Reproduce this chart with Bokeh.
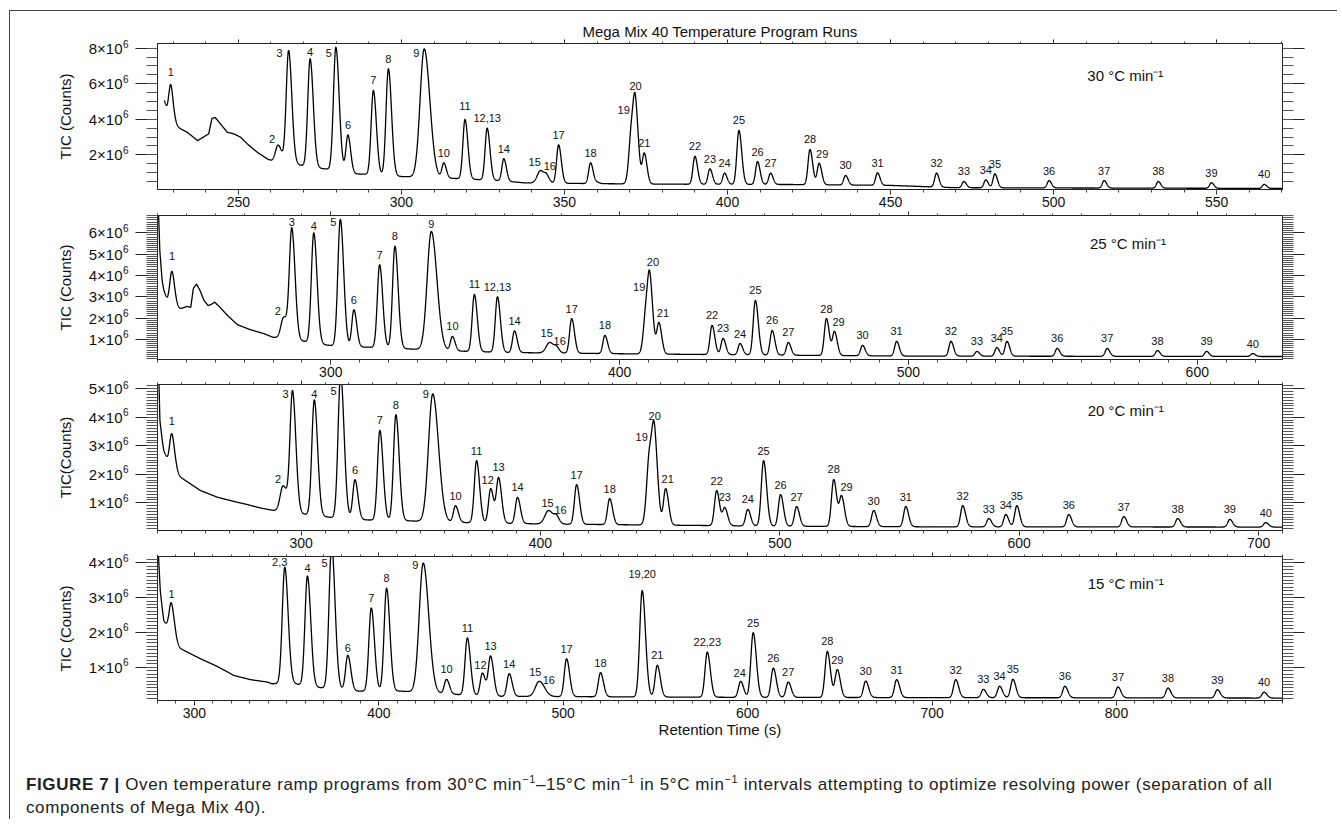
import numpy as np
from bokeh.plotting import figure
from bokeh.models import (ColumnDataSource, Range1d, FixedTicker, CustomJSTickFormatter,
                          LinearAxis, Label, Div)
from bokeh.layouts import column
from bokeh.core.properties import value
from bokeh.embed import file_html
from bokeh.resources import INLINE

FONT = "Liberation Sans"

# ------------------------------------------------------------------ data
# values in units of 1e6 counts, retention times in s

# 30 C/min
p30_labels = ["1", "2", "3", "4", "5", "6", "7", "8", "9", "10", "11", "12,13", "14", "15", "16",
              "17", "18", "", "19", "20", "21", "22", "23", "24", "25", "26", "27", "28", "29", "30",
              "31", "32", "33", "34", "35", "36", "37", "38", "39", "40"]
p30_rt = [229.3, 262.2, 265.4, 272.0, 279.9, 283.6, 291.4, 296.0, 307.0, 313.0, 319.5, 326.3, 331.4,
          342.7, 344.6, 348.2, 358.0, 360.0, 370.6, 371.8, 374.5, 390.0, 394.6, 399.1, 403.5, 409.2,
          413.2, 425.3, 428.1, 436.2, 446.0, 464.1, 472.5, 479.2, 482.0, 498.6, 515.5, 532.1, 548.4,
          564.6]
p30_apex = [5.95, 2.55, 7.87, 7.40, 8.05, 3.12, 5.62, 6.84, 7.96, 1.55, 3.99, 3.50, 1.78, 1.12, 0.93,
            2.56, 1.55, 0.50, 4.10, 5.30, 2.11, 1.92, 1.21, 0.97, 3.37, 1.62, 0.97, 2.30, 1.53, 0.84,
            0.99, 0.97, 0.50, 0.59, 0.93, 0.55, 0.55, 0.50, 0.43, 0.34]
p30_base_t = [227.3, 228.1, 229.3, 230.1, 232.3, 234.3, 237.5, 240.9, 241.9, 242.9, 244.5, 246.6,
              248.6, 250.7, 252.7, 255.9, 258.8, 260.4, 263.0, 267.0, 270.5, 275.5, 282.0, 286.0,
              290.0, 300.0, 311.0, 318.0, 330.0, 338.0, 360.0, 380.0, 420.0, 450.0, 470.0, 570.2]
p30_base_v = [5.05, 4.55, 4.20, 3.74, 3.46, 3.27, 2.80, 3.18, 4.05, 4.10, 3.74, 3.27, 3.18, 2.99,
              2.62, 2.13, 1.78, 1.65, 1.58, 1.50, 1.36, 1.23, 1.12, 0.93, 0.90, 0.78, 0.70, 0.66,
              0.55, 0.42, 0.38, 0.35, 0.33, 0.28, 0.15, 0.11]

# 25 C/min
p25_labels = ["1", "2", "3", "4", "5", "6", "7", "8", "9", "10", "11", "12,13", "14", "15", "16",
              "17", "18", "19", "20", "21", "22", "23", "24", "25", "26", "27", "28", "29", "30",
              "31", "32", "33", "34", "35", "36", "37", "38", "39", "40"]
p25_rt = [245.0, 283.7, 286.5, 294.1, 303.3, 308.0, 316.9, 322.2, 334.8, 342.1, 349.7, 357.7, 363.6,
          375.8, 378.2, 383.4, 394.9, 409.2, 410.5, 413.6, 432.0, 435.8, 441.7, 447.0, 452.8, 458.4,
          471.6, 474.4, 484.1, 495.9, 514.7, 523.7, 530.6, 534.1, 551.5, 568.8, 586.2, 603.2, 619.2]
p25_apex = [4.19, 2.05, 6.24, 6.00, 6.63, 2.39, 4.50, 5.37, 6.06, 1.14, 3.11, 3.00, 1.40, 0.86, 0.70,
            1.98, 1.19, 3.00, 4.14, 1.80, 1.66, 1.05, 0.81, 2.83, 1.42, 0.86, 1.98, 1.38, 0.72, 0.91,
            0.91, 0.44, 0.62, 0.91, 0.58, 0.58, 0.48, 0.44, 0.34]
p25_base_t = [240.1, 240.8, 241.6, 242.2, 243.4, 245.9, 248.0, 250.3, 251.5, 252.4, 253.5, 254.7,
              256.1, 257.5, 258.6, 259.8, 261.3, 264.2, 267.7, 272.3, 276.9, 279.8, 282.5, 290.2,
              297.7, 305.9, 312.7, 319.7, 331.3, 340.6, 360.0, 400.0, 450.0, 500.0, 629.5]
p25_base_v = [8.00, 5.17, 3.77, 3.30, 2.86, 2.49, 2.44, 2.55, 2.50, 3.38, 3.60, 3.30, 2.83, 2.59,
              2.64, 2.75, 2.55, 2.13, 1.69, 1.45, 1.27, 1.11, 1.05, 0.92, 0.75, 0.64, 0.64, 0.60,
              0.53, 0.47, 0.39, 0.33, 0.27, 0.22, 0.20]

# 20 C/min
p20_labels = ["1", "2", "3", "4", "5", "6", "7", "8", "9", "10", "11", "12", "13", "14", "15", "16",
              "17", "18", "19", "20", "21", "22", "23", "24", "25", "26", "27", "28", "29", "30",
              "31", "32", "33", "34", "35", "36", "37", "38", "39", "40"]
p20_rt = [246.0, 292.5, 296.4, 305.5, 316.5, 322.5, 332.9, 339.6, 355.0, 364.5, 373.3, 379.2, 382.5,
          390.4, 403.4, 406.7, 415.1, 428.9, 445.6, 447.7, 452.3, 473.6, 477.0, 486.6, 493.2, 500.3,
          507.0, 522.5, 525.8, 539.2, 552.6, 576.4, 587.3, 594.4, 599.0, 620.7, 643.7, 666.2, 688.0,
          703.0]
p20_apex = [3.42, 1.60, 4.94, 4.61, 5.50, 1.81, 3.54, 4.09, 4.82, 0.90, 2.48, 1.50, 1.89, 1.19, 0.73,
            0.59, 1.64, 1.15, 3.00, 3.71, 1.50, 1.43, 0.84, 0.77, 2.48, 1.29, 0.87, 1.82, 1.26, 0.73,
            0.87, 0.90, 0.45, 0.59, 0.90, 0.59, 0.52, 0.45, 0.42, 0.31]
p20_base_t = [240.1, 241.0, 242.0, 242.6, 244.5, 247.1, 249.6, 258.0, 264.9, 271.9, 277.5, 283.0,
              288.6, 300.5, 312.3, 320.7, 327.6, 341.5, 361.0, 400.0, 450.0, 500.0, 560.0, 710.0]
p20_base_v = [7.00, 3.89, 3.19, 2.84, 2.42, 2.07, 1.90, 1.43, 1.20, 1.05, 0.94, 0.82, 0.73, 0.61,
              0.49, 0.44, 0.40, 0.38, 0.32, 0.26, 0.22, 0.18, 0.16, 0.15]

# 15 C/min
p15_labels = ["1", "2,3", "4", "5", "6", "7", "8", "9", "10", "11", "12", "13", "14", "15", "16",
              "17", "18", "19,20", "21", "22,23", "24", "25", "26", "27", "28", "29", "30", "31",
              "32", "33", "34", "35", "36", "37", "38", "39", "40"]
p15_rt = [287.6, 349.0, 361.3, 374.4, 383.2, 395.9, 404.2, 424.1, 436.7, 448.0, 456.2, 460.6, 470.7,
          487.0, 489.5, 501.8, 520.2, 542.8, 551.0, 578.1, 596.2, 603.0, 613.9, 622.0, 643.2, 648.6,
          664.0, 680.8, 712.8, 727.8, 736.6, 743.8, 772.0, 800.8, 827.9, 854.7, 880.0]
p15_apex = [2.84, 3.87, 3.62, 4.50, 1.34, 2.70, 3.27, 3.99, 0.65, 1.84, 0.83, 1.32, 0.81, 0.59, 0.43,
            1.24, 0.84, 3.20, 1.05, 1.43, 0.59, 1.99, 0.97, 0.57, 1.45, 0.93, 0.60, 0.64, 0.64, 0.36,
            0.45, 0.65, 0.45, 0.43, 0.40, 0.35, 0.28]
p15_base_t = [280.0, 280.55, 281.5, 282.5, 283.4, 285.8, 288.5, 292.5, 303.3, 312.4, 321.4, 330.4,
              339.5, 342.2, 352.1, 363.0, 375.6, 386.5, 411.8, 433.5, 460.0, 600.0, 890.0]
p15_base_v = [5.50, 4.18, 3.20, 2.72, 2.34, 2.10, 1.72, 1.53, 1.24, 1.02, 0.76, 0.64, 0.57, 0.52,
              0.55, 0.43, 0.38, 0.31, 0.31, 0.24, 0.16, 0.13, 0.11]

# axis ticks
p30_xticks = [250, 300, 350, 400, 450, 500, 550]
p25_xticks = [300, 400, 500, 600]
p20_xticks = [300, 400, 500, 600, 700]
p15_xticks = [300, 400, 500, 600, 700, 800]
p30_yticks = [2, 4, 6, 8]
p25_yticks = [1, 2, 3, 4, 5, 6]
p20_yticks = [1, 2, 3, 4, 5]
p15_yticks = [1, 2, 3, 4]
y_exponent = "6"

rates = ["30 °C min⁻¹", "25 °C min⁻¹", "20 °C min⁻¹", "15 °C min⁻¹"]

# ------------------------------------------------------------------ styling / layout
TAIL = 1.35
FRAME_W = 1125
LEFT_B = 147
RIGHT_B = 55
SUP_RAISE_PX = 5

panels = [
    dict(labels=p30_labels, rt=p30_rt, apex=p30_apex, bt=p30_base_t, bv=p30_base_v,
         xr=(225.2, 570.2), yr=(0.05, 8.26), xt=p30_xticks, xminor=list(range(230, 571, 10)),
         yt=p30_yticks, yminor=list(np.arange(0.5, 8.01, 0.5)), sigma=0.55,
         broad={"9": 1.7, "15": 1.8, "2": 1.4, "19": 1.2},
         fh=146, bt_=32, bb=22, ylabel="TIC (Counts)", rate_pos=(522.0, 6.46),
         offs={"2": (-6, -6), "3": (-9, 3), "5": (-7, 6), "9": (-8, 4), "15": (-6, -8),
               "16": (3, -8), "19": (-8, -7), "29": (3, -9), "4": (0, -7), "1": (0, -13),
               "11": (0, -13)}),
    dict(labels=p25_labels, rt=p25_rt, apex=p25_apex, bt=p25_base_t, bv=p25_base_v,
         xr=(240.0, 629.5), yr=(0.06, 6.81), xt=p25_xticks, xminor=list(range(240, 630, 10)),
         yt=p25_yticks, yminor=list(np.round(np.arange(0.1, 6.81, 0.1), 2)), sigma=0.66,
         broad={"9": 1.7, "15": 1.8, "2": 1.4, "19": 1.2},
         fh=144, bt_=4, bb=20, ylabel="TIC (Counts)", rate_pos=(576.0, 5.5),
         offs={"1": (0, -15), "2": (-6, -6), "3": (0, -6), "4": (0, -7), "5": (-7, 3),
               "9": (0, -8), "15": (-3, -9), "16": (3, -5), "19": (-7, -10), "20": (3, -10),
               "21": (4, -9), "29": (4, -9)}),
    dict(labels=p20_labels, rt=p20_rt, apex=p20_apex, bt=p20_base_t, bv=p20_base_v,
         xr=(240.0, 710.0), yr=(0.03, 5.15), xt=p20_xticks, xminor=list(range(240, 711, 10)),
         yt=p20_yticks, yminor=list(np.round(np.arange(0.1, 5.11, 0.1), 2)), sigma=0.85,
         broad={"9": 1.7, "15": 1.8, "2": 1.4, "19": 1.2},
         fh=146, bt_=5, bb=21, ylabel="TIC(Counts)", rate_pos=(644.5, 4.24),
         offs={"1": (0, -13), "2": (-5, -7), "3": (-7, 3), "4": (0, -6), "5": (-7, 6),
               "9": (-7, 0), "12": (-3, -9), "15": (-1, -8), "16": (4, -5), "19": (-8, -9),
               "21": (2, -10), "29": (5, -8)}),
    dict(labels=p15_labels, rt=p15_rt, apex=p15_apex, bt=p15_base_t, bv=p15_base_v,
         xr=(280.0, 890.0), yr=(0.04, 4.18), xt=p15_xticks, xminor=list(range(280, 891, 10)),
         yt=p15_yticks, yminor=list(np.round(np.arange(0.1, 4.11, 0.1), 2)), sigma=1.15,
         broad={"9": 1.6, "15": 1.8},
         fh=144, bt_=5, bb=42, ylabel="TIC (Counts)", rate_pos=(805.0, 3.4),
         offs={"1": (0, -9), "2,3": (-5, -5), "4": (0, -8), "5": (-7, 6), "6": (0, -7),
               "9": (-8, 2), "12": (-2, -8), "15": (-4, -9), "16": (5, -6), "24": (-1, -8),
               "19,20": (0, -17)}),
]


def shape(t, t0, sl, sr):
    d = t - t0
    s = np.where(d < 0, sl, sr)
    return np.exp(-0.5 * (d / s) ** 2)


def build_trace(pd):
    labels = pd["labels"]
    rt = np.asarray(pd["rt"], float)
    apex = np.asarray(pd["apex"], float)
    bt = np.asarray(pd["bt"], float)
    bv = np.asarray(pd["bv"], float)
    n = len(rt)
    excess = apex - np.interp(rt, bt, bv)
    mult = np.array([pd["broad"].get(l, 1.0) for l in labels])
    sl = pd["sigma"] * (1 + 0.05 * np.clip(excess, 0, None)) * mult
    sr = sl * TAIL
    G = np.array([[float(shape(rt[i], rt[j], sl[j], sr[j])) for j in range(n)] for i in range(n)])
    amp = np.clip(np.linalg.solve(G, excess), 0.0, None)
    t = np.linspace(bt[0], pd["xr"][1], 9000)
    v = np.interp(t, bt, bv)
    for j in range(n):
        v = v + amp[j] * shape(t, rt[j], sl[j], sr[j])
    apex_val = np.interp(rt, t, v)
    return t, v, apex_val


BLANK = "return '';"

figs = []
for k, pd in enumerate(panels):
    t, v, apex_val = build_trace(pd)
    y0, y1 = pd["yr"][0] * 1e6, pd["yr"][1] * 1e6
    p = figure(frame_width=FRAME_W, frame_height=pd["fh"],
               x_range=Range1d(*pd["xr"]), y_range=Range1d(y0, y1),
               output_backend="svg", toolbar_location=None,
               x_axis_location=None, y_axis_location=None,
               min_border_left=LEFT_B, min_border_right=RIGHT_B,
               min_border_top=pd["bt_"], min_border_bottom=pd["bb"])
    p.grid.visible = False
    p.outline_line_color = "#222222"
    p.outline_line_width = 1
    p.background_fill_color = "white"
    p.border_fill_color = "white"

    # x axes
    xt = FixedTicker(ticks=pd["xt"], minor_ticks=pd["xminor"])
    common_x = dict(ticker=xt, axis_line_color="#222222", major_tick_line_color="#222222",
                    minor_tick_line_color="#444444", major_tick_in=0, minor_tick_in=0)
    xb = LinearAxis(major_tick_out=5, minor_tick_out=3, major_label_standoff=2,
                    major_label_text_font=FONT, major_label_text_font_size="14px",
                    major_label_text_color="#111111", **common_x)
    if k == 3:
        xb.axis_label = "Retention Time (s)"
        xb.axis_label_text_font = FONT
        xb.axis_label_text_font_size = "15px"
        xb.axis_label_text_font_style = "normal"
        xb.axis_label_standoff = 0
        xb.axis_label_text_color = "#111111"
    p.add_layout(xb, "below")
    xa = LinearAxis(major_tick_out=4, minor_tick_out=2, major_label_standoff=0,
                    major_label_text_font_size="0px", major_label_text_alpha=0,
                    formatter=CustomJSTickFormatter(code=BLANK), **common_x)
    p.add_layout(xa, "above")

    # y axes: ticks / exponent / mantissa, stacked outward from the frame
    major = [y * 1e6 for y in pd["yt"]]
    yt = FixedTicker(ticks=major, minor_ticks=[y * 1e6 for y in pd["yminor"]])
    ya = LinearAxis(ticker=yt, axis_line_color="#222222", major_tick_line_color="#222222",
                    minor_tick_line_color="#555555", major_tick_in=0, minor_tick_in=0,
                    major_tick_out=22, minor_tick_out=11, major_label_standoff=0,
                    major_label_text_font_size="0px", major_label_text_alpha=0,
                    formatter=CustomJSTickFormatter(code=BLANK))
    p.add_layout(ya, "left")
    raise_data = (y1 - y0) / pd["fh"] * SUP_RAISE_PX
    sup_ticks = [min(m + raise_data, y1 - (y1 - y0) * 1e-4) for m in major]
    yexp = LinearAxis(ticker=FixedTicker(ticks=sup_ticks, minor_ticks=[]),
                      axis_line_color=None, major_tick_line_color=None,
                      minor_tick_line_color=None, major_tick_in=0, major_tick_out=0,
                      minor_tick_in=0, minor_tick_out=0, major_label_standoff=7,
                      major_label_text_font=FONT, major_label_text_font_size="10px",
                      major_label_text_color="#111111",
                      formatter=CustomJSTickFormatter(code="return '%s';" % y_exponent))
    p.add_layout(yexp, "left")
    ym = LinearAxis(ticker=FixedTicker(ticks=major, minor_ticks=[]),
                    axis_line_color=None, major_tick_line_color=None,
                    minor_tick_line_color=None, major_tick_in=0, major_tick_out=0,
                    minor_tick_in=0, minor_tick_out=0, major_label_standoff=-3,
                    major_label_text_font=FONT, major_label_text_font_size="15px",
                    major_label_text_color="#111111",
                    formatter=CustomJSTickFormatter(code="return Math.round(tick/1e6) + '\u00d710';"),
                    axis_label=pd["ylabel"], axis_label_standoff=12, axis_label_text_font=FONT,
                    axis_label_text_font_size="15px", axis_label_text_font_style="normal",
                    axis_label_text_color="#111111")
    p.add_layout(ym, "left")

    yr_ = LinearAxis(ticker=yt, axis_line_color="#222222", major_tick_line_color="#222222",
                     minor_tick_line_color="#555555", major_tick_in=0, minor_tick_in=0,
                     major_tick_out=22, minor_tick_out=11, major_label_standoff=0,
                     major_label_text_font_size="0px", major_label_text_alpha=0,
                     formatter=CustomJSTickFormatter(code=BLANK))
    p.add_layout(yr_, "right")

    p.line(t, v * 1e6, line_color="black", line_width=1.3)

    ytop = pd["yr"][1]
    lab, lx, ly, dx, dy = [], [], [], [], []
    for l, r, a in zip(pd["labels"], pd["rt"], apex_val):
        if not l:
            continue
        ox, oy = pd["offs"].get(l, (0, -10))
        lab.append(l)
        lx.append(r)
        ly.append(min(a, ytop) * 1e6)
        dx.append(ox)
        dy.append(oy)
    src = ColumnDataSource(dict(x=lx, y=ly, text=lab, dx=dx, dy=dy))
    p.text(x="x", y="y", text="text", x_offset="dx", y_offset="dy", source=src,
           text_font=value(FONT), text_font_size="11px", text_align="center",
           text_baseline="middle", text_color="#111111")

    rx, ry = pd["rate_pos"]
    p.add_layout(Label(x=rx, y=ry * 1e6, text=rates[k], text_font=FONT, text_font_size="15px",
                       text_align="center", text_baseline="middle", text_color="#111111"))
    if k == 0:
        p.title.text = "Mega Mix 40 Temperature Program Runs"
        p.title.align = "center"
        p.title.text_font = FONT
        p.title.text_font_size = "15px"
        p.title.text_font_style = "normal"
        p.title.text_color = "#111111"
        p.title.standoff = 0
    figs.append(p)

SUP = "<sup style=\"font-size:11px;line-height:0\">−1</sup>"
caption = Div(
    text=("<div style=\"font-family:'Liberation Sans',Arial,sans-serif;font-size:17px;"
          "letter-spacing:0.6px;line-height:23px;color:#222;white-space:nowrap\">"
          "<b>FIGURE 7 |</b> Oven temperature ramp programs from 30°C min" + SUP +
          "–15°C min" + SUP + " in 5°C min" + SUP + " intervals attempting to "
          "optimize resolving power (separation of all<br>components of Mega Mix 40).</div>"),
    width=1310, height=46, margin=(31, 0, 0, 16))

layout = column(*figs, caption, spacing=0, margin=(10, 0, 0, 9),
                styles={"border-top": "1px solid #444", "border-left": "1px solid #444"})

open("out.html", "w").write(file_html(layout, INLINE))
